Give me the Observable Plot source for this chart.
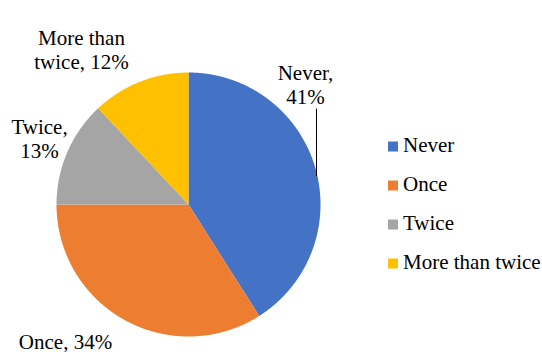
<!DOCTYPE html>
<html>
<head>
<meta charset="utf-8">
<script src="https://cdn.jsdelivr.net/npm/d3@7"></script>
<script src="https://cdn.jsdelivr.net/npm/@observablehq/plot@0.6"></script>
<style>
  html, body { margin: 0; padding: 0; background: #ffffff; }
  #chart svg { display: block; }
  #chart svg, #chart svg text, #chart svg tspan { font-family: "Liberation Serif", "Times New Roman", serif !important; }
</style>
</head>
<body>
<div id="chart"></div>
<script>
// ---- data ----
const categories = ["Never", "Once", "Twice", "More than twice"];
const percents = [41, 34, 13, 12];
const labelTexts = ["Never,\n41%", "Once, 34%", "Twice,\n13%", "More than\ntwice, 12%"];

// ---- style / layout ----
const colors = ["#4472C4", "#ED7D31", "#A5A5A5", "#FFC000"];
const W = 542, H = 352;
const cx = 188, cy = 204, R = 132;
const font = "'Liberation Serif', 'Times New Roman', serif";
// label anchor (center x, baseline of last line), per slice
const labelLayout = [
  {x: 305, y: 103},
  {x: 65, y: 348},
  {x: 39, y: 157},
  {x: 81, y: 68}
];
const legendX = 392.5, legendY0 = 146, legendStep = 39;

// ---- build slice polygons from the data with d3.pie ----
const arcs = d3.pie().sort(null).value(d => d.value)(
  categories.map((c, i) => ({category: c, value: percents[i]}))
);
const slicePts = [];
for (const a of arcs) {
  const c = a.data.category;
  slicePts.push({category: c, x: cx, y: cy});
  const n = Math.max(2, Math.ceil((a.endAngle - a.startAngle) / (Math.PI / 720)));
  for (let k = 0; k <= n; k++) {
    const t = a.startAngle + (a.endAngle - a.startAngle) * k / n;
    slicePts.push({category: c, x: cx + R * Math.sin(t), y: cy - R * Math.cos(t)});
  }
  slicePts.push({category: c, x: cx, y: cy});
}

const labels = categories.map((c, i) => ({category: c, text: labelTexts[i], ...labelLayout[i]}));
const legend = categories.map((c, i) => ({category: c, x: legendX, y: legendY0 + i * legendStep}));

// leader line for the "Never" label, ending on the pie's edge
const lx = 316;
const leader = [{x1: lx, y1: 108, x2: lx, y2: cy - Math.sqrt(R * R - (lx - cx) * (lx - cx)) + 4}];

const chart = Plot.plot({
  width: W,
  height: H,
  margin: 0,
  x: {domain: [0, W], range: [0, W], axis: null},
  y: {domain: [0, H], range: [0, H], axis: null},
  color: {domain: categories, range: colors},
  style: {background: "#ffffff", fontFamily: font},
  marks: [
    Plot.line(slicePts, {x: "x", y: "y", z: "category", fill: "category", stroke: "none", curve: "linear-closed"}),
    Plot.link(leader, {x1: "x1", y1: "y1", x2: "x2", y2: "y2", stroke: "#000000", strokeWidth: 1}),
    Plot.text(labels, {x: "x", y: "y", text: "text", textAnchor: "middle", lineAnchor: "bottom",
      lineHeight: 1.1, fontSize: 21, fontFamily: font, fill: "#000000"}),
    Plot.dot(legend, {x: "x", y: "y", symbol: "square", r: 5.64, fill: "category", stroke: "none"}),
    Plot.text(legend, {x: d => d.x + 10, y: d => d.y + 5, text: "category", textAnchor: "start",
      lineAnchor: "bottom", fontSize: 21, fontFamily: font, fill: "#000000"})
  ]
});
document.getElementById("chart").appendChild(chart);
</script>
</body>
</html>
